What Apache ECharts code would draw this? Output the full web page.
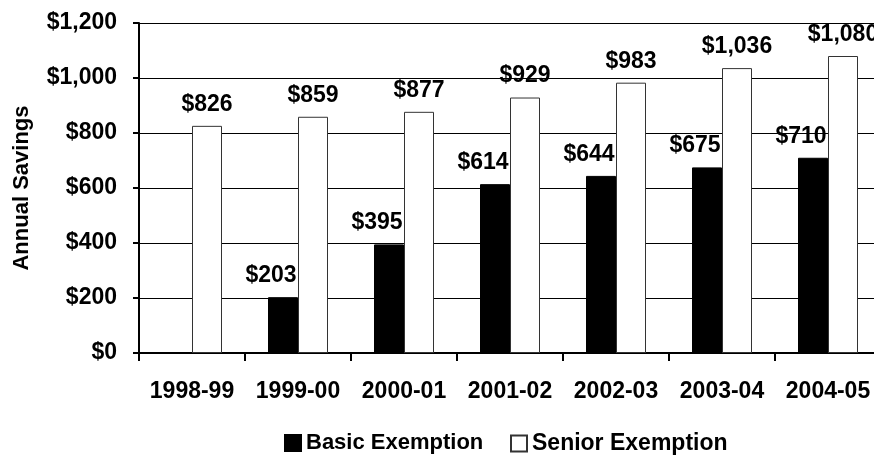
<!DOCTYPE html>
<html>
<head>
<meta charset="utf-8">
<script src="https://cdn.jsdelivr.net/npm/echarts@6/dist/echarts.min.js"></script>
<style>
html, body { margin: 0; padding: 0; background: #fff; }
#main { width: 874px; height: 456px; }
</style>
</head>
<body>
<div id="main"></div>
<script>
var years = ['1998-99', '1999-00', '2000-01', '2001-02', '2002-03', '2003-04', '2004-05'];
var basicSavings = [null, 203, 395, 614, 644, 675, 710];
var seniorSavings = [826, 859, 877, 929, 983, 1036, 1080];
var yTicks = [0, 200, 400, 600, 800, 1000, 1200];

function money(v) {
	return '$' + String(v).replace(/\B(?=(\d{3})+(?!\d))/g, ',');
}

var font = 'Liberation Sans, Arial, sans-serif';
var chart = echarts.init(document.getElementById('main'));

// 图例分两块摆放，和原图位置对齐
function legendItem(name, left, size) {
	return {
		top: 432,
		left: left,
		padding: 0,
		itemWidth: 16,
		itemHeight: 16,
		icon: 'rect',
		selectedMode: false,
		textStyle: { fontFamily: font, fontSize: size, fontWeight: 'bold', color: '#000' },
		data: [name]
	};
}

var option = {
	animation: false,
	backgroundColor: '#fff',
	textStyle: { fontFamily: font },
	// 图表右侧超出画布，宽度直接给定
	grid: { left: 139, width: 742, top: 23, bottom: 103, outerBoundsMode: 'none', containLabel: false },
	legend: [
		legendItem('Basic Exemption', 284, 22),
		legendItem('Senior Exemption', 510, 23)
	],
	xAxis: {
		type: 'category',
		data: years,
		axisLine: { lineStyle: { color: '#000', width: 2 } },
		axisTick: { show: true, length: 8, lineStyle: { color: '#000', width: 2 } },
		axisLabel: { interval: 0, hideOverlap: false, fontFamily: font, fontSize: 23, fontWeight: 'bold', color: '#000', margin: 27 }
	},
	yAxis: {
		type: 'value',
		min: yTicks[0],
		max: yTicks[yTicks.length - 1],
		interval: 200,
		name: 'Annual Savings',
		nameLocation: 'middle',
		nameGap: 106,
		nameTextStyle: { fontFamily: font, fontSize: 22, fontWeight: 'bold', color: '#000' },
		axisLine: { show: true, lineStyle: { color: '#000', width: 2 } },
		axisTick: { show: true, length: 6, lineStyle: { color: '#000', width: 2 } },
		axisLabel: {
			fontFamily: font, fontSize: 23, fontWeight: 'bold', color: '#000', margin: 22,
			formatter: function (v) { return money(v); }
		},
		splitLine: { lineStyle: { color: '#000', width: 1 } }
	},
	series: [
		{
			name: 'Basic Exemption',
			type: 'bar',
			barWidth: 30,
			barGap: '0%',
			itemStyle: { color: '#000', borderColor: '#000', borderWidth: 1 },
			label: {
				show: true, position: 'top', distance: 10, offset: [-12, 0],
				fontFamily: font, fontSize: 23, fontWeight: 'bold', color: '#000',
				formatter: function (p) { return money(p.value); }
			},
			data: basicSavings
		},
		{
			name: 'Senior Exemption',
			type: 'bar',
			barWidth: 30,
			barGap: '0%',
			itemStyle: { color: '#fff', borderColor: '#333', borderWidth: 1 },
			label: {
				show: true, position: 'top', distance: 10,
				fontFamily: font, fontSize: 23, fontWeight: 'bold', color: '#000',
				formatter: function (p) { return money(p.value); }
			},
			data: seniorSavings
		}
	]
};

chart.setOption(option);
</script>
</body>
</html>
